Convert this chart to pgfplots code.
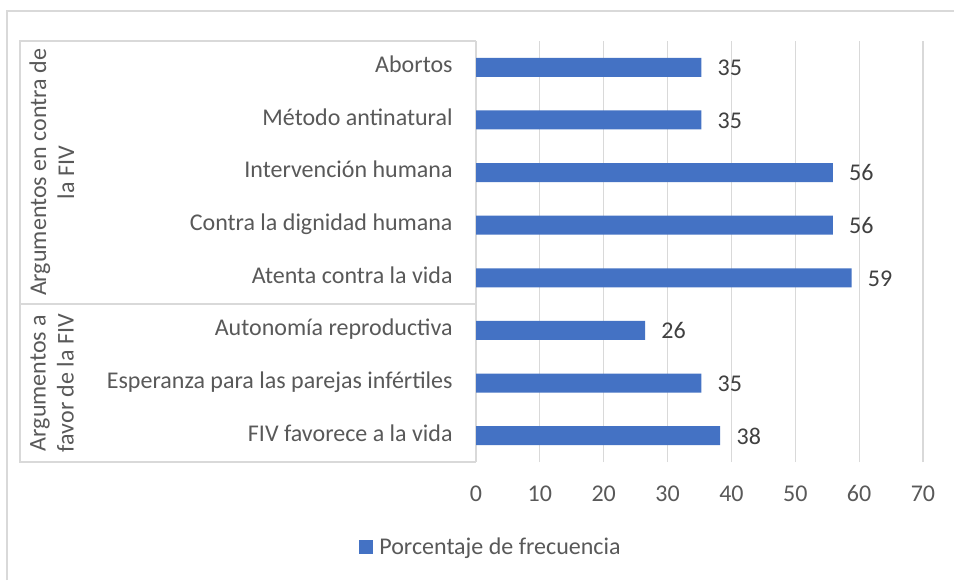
\documentclass[border=0pt]{standalone}
\usepackage{fontspec}
\setmainfont{Carlito}
\usepackage{pgfplots}
\pgfplotsset{compat=1.18}

\definecolor{barblue}{HTML}{4472C4}
\definecolor{txtgray}{HTML}{595959}
\definecolor{lblgray}{HTML}{404040}
\definecolor{gridgray}{HTML}{D9D9D9}
\newcommand{\chartfont}{\fontsize{12}{14}\selectfont}

\begin{document}
\begin{tikzpicture}
% frame, in pixel units (y downwards)
\begin{scope}[x=0.5pt,y=-0.5pt]
\useasboundingbox (0,0) rectangle (954,580);
\fill[white] (0,0) rectangle (954,580);
\draw[gridgray, line width=0.75pt] (7,580) -- (7,11) -- (954,11);
\end{scope}

\begin{axis}[
    at={(238pt,-231pt)}, anchor=south west,
    scale only axis, width=223.5pt, height=210.5pt,
    xbar, bar width=9.5pt,
    xmin=0, xmax=70, xtick distance=10,
    ymin=-0.5, ymax=7.5, ytick={0,...,7},
    yticklabels={FIV favorece a la vida, Esperanza para las parejas infértiles, Autonomía reproductiva, Atenta contra la vida, Contra la dignidad humana, Intervención humana, Método antinatural, Abortos},
    axis line style={draw=none},
    major tick length=0pt,
    xmajorgrids, grid style={gridgray, line width=0.6pt},
    tick label style={font=\chartfont, text=txtgray, inner sep=0pt},
    xticklabel style={anchor=base, yshift=-19.8pt},
    yticklabel style={anchor=base east, xshift=-11.5pt, yshift=-2.7pt},
    /pgf/number format/assume math mode=true,
    point meta=x,
    nodes near coords={\pgfmathprintnumber[fixed,precision=0]{\pgfplotspointmeta}},
    nodes near coords style={anchor=base west, inner sep=0pt, xshift=8pt, yshift=-4.2pt, font=\chartfont, text=lblgray},
    legend style={at={(0.0313,-0.203)}, anchor=center, draw=none, fill=none,
        font=\chartfont, text=txtgray, inner sep=0pt, nodes={inner sep=0pt}},
    legend image code/.code={\fill[#1] (0pt,-3.5pt) rectangle (7pt,3.5pt); \path (10pt,0pt);},
]
% values are percentages (n = 34)
\addplot[fill=barblue, draw=none] coordinates {
    (38.24,0) (35.29,1) (26.47,2) (58.82,3) (55.88,4) (55.88,5) (35.29,6) (35.29,7)
};
\legend{Porcentaje de frecuencia}
\end{axis}

% multi-level category box
\begin{scope}[x=0.5pt,y=-0.5pt]
\draw[gridgray, line width=0.6pt] (476,41) -- (20,41) -- (20,462) -- (476,462);
\draw[gridgray, line width=0.6pt] (20,304) -- (476,304);
\node[rotate=90, align=center, font=\chartfont, text=txtgray] at (52,172.5) {Argumentos en contra de\\la FIV};
\node[rotate=90, align=center, font=\chartfont, text=txtgray] at (52,383) {Argumentos a\\favor de la FIV};
\end{scope}
\end{tikzpicture}
\end{document}
